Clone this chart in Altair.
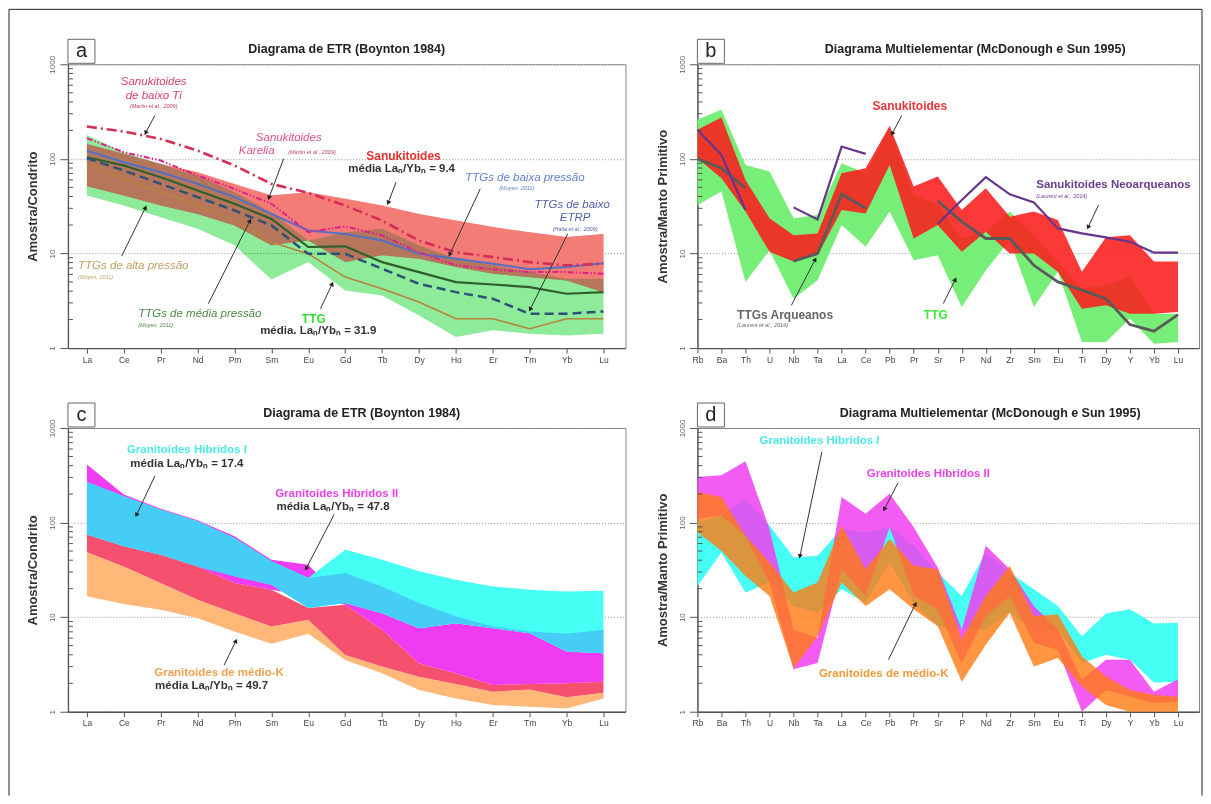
import altair as alt
import pandas as pd

FONT = "Liberation Sans"

REE = ["La", "Ce", "Pr", "Nd", "Pm", "Sm", "Eu", "Gd", "Tb", "Dy", "Ho", "Er", "Tm", "Yb", "Lu"]
MULTI = ["Rb", "Ba", "Th", "U", "Nb", "Ta", "La", "Ce", "Pb", "Pr", "Sr", "P", "Nd", "Zr", "Sm",
         "Eu", "Ti", "Dy", "Y", "Yb", "Lu"]

# ---------------- Panel a (ETR, Boynton 1984) ----------------
A_SAN_HI = [144, 113, 88.5, 72.3, 54.4, 41, 44.4, 37.8, 32.1, 26.2, 22.3, 19, 16.8, 14.9, 16.1]
A_SAN_LO = [51.4, 41, 32.1, 26.2, 19.8, 12.2, 13.7, 8.1, 9.6, 8.8, 7.2, 6.1, 5.62, 5.19, 3.9]
A_TTG_HI = [179, 117.6, 88.5, 66.7, 44.4, 27.3, 13.7, 16.8, 18.2, 12.2, 8.8, 7.5, 6.35, 5.4, 5.4]
A_TTG_LO = [41, 32.1, 24.2, 18.2, 12.2, 5.3, 8.1, 4.06, 3.6, 2.21, 1.31, 1.54, 1.42, 1.36, 1.42]
A_BAIXO_TI = [219.6, 194.5, 162.6, 122, 85, 54.4, 43.7, 32.1, 22.3, 13.7, 10.3, 9.15, 8.1, 7.5, 7.8]
A_KARELIA = [165, 117.6, 96, 66.7, 48.2, 33.5, 16.8, 19.3, 15.5, 10.3, 7.5, 6.8, 6.35, 6.35, 6.1]
A_BAIXA_P = [122, 92, 72.3, 54.4, 39.4, 26.2, 17.5, 16.1, 13.7, 9.9, 8.8, 7.8, 6.8, 7.2, 7.9]
A_MEDIA_P = [104, 85, 64, 46.3, 33.5, 23.2, 11.7, 11.9, 8.1, 6.35, 4.98, 4.7, 4.41, 3.75, 3.9]
A_BAIXO_ETRP = [101.6, 75.3, 54.4, 39.4, 28.5, 19.8, 9.9, 9.9, 6.9, 4.78, 3.9, 3.32, 2.3, 2.3, 2.44]
A_ALTA_P = [85, 61.5, 44.4, 32.1, 22.3, 13.2, 9.9, 5.62, 4.23, 3.06, 2.04, 2.04, 1.6, 2.04, 2.04]

# ---------------- Panel b (multielement, McDonough & Sun 1995) ----------------
B_TTG_HI = [259, 331, 86.4, 73.4, 23.5, 25.5, 90, 70.3, 211, 41.5, 32.5, 14.4, 17, 27.7, 15.6, 8.2,
            4.26, 4.62, 5.66, 2.31, 2.31]
B_TTG_LO = [32.5, 45.1, 5.0, 10.8, 3.33, 5.22, 20, 11.8, 27.7, 8.5, 9.6, 2.72, 6.66, 13.8, 2.72, 6.39,
            1.16, 1.16, 2.05, 1.11, 1.16]
B_SAN_HI = [203, 274, 59.9, 23.5, 15.6, 16.3, 70.3, 79.6, 224, 50.9, 65, 28.8, 48.9, 24.5, 27.7, 22.6,
            6.39, 14.8, 15.6, 8.2, 8.2]
B_SAN_LO = [101.6, 62.4, 27.7, 10.4, 8.2, 9.6, 28.8, 26.5, 86.4, 14.4, 20, 10.4, 17, 10, 10, 6.39,
            2.61, 2.83, 2.31, 2.31, 2.41]
B_NEOARQ = [203, 110, 28.8, None, 30.7, 22.9, 135, 113, None, None, 20.5, 36.7, 64, 42.2, 34.7, 18.4,
            16.3, 14.8, 13.3, 10.2, 10.2]
B_TTG_ARQ = [100, 79.6, 48.9, None, 8.3, 10, 42.2, 30, None, None, 35.9, 21.7, 14.4, 14.4, 7.5, 5.0,
             4.1, 3.33, 1.77, 1.51, 2.26]

# ---------------- Panel c (ETR) ----------------
C_MK_HI = [48.5, 34.4, 22.9, 15.3, 11.0, 7.96, 9.37, 3.99, 3.0, 2.35, 1.97, 1.63, 1.72, 1.42, 1.59]
C_MK_LO = [16.6, 13.8, 12.0, 9.76, 7.05, 5.22, 6.66, 3.53, 2.55, 1.70, 1.38, 1.18, 1.13, 1.08, 1.38]
C_RED_HI = [74.6, 56.1, 45.8, 34.4, 22.9, 19.5, 12.5, 13.5, 7.34, 3.25, 2.55, 1.92, 1.97, 2.0, 2.08]
C_RED_LO = [48.5, 34.4, 22.9, 15.3, 11.0, 7.96, 9.37, 3.99, 3.0, 2.35, 1.97, 1.63, 1.72, 1.42, 1.59]
C_HII_HI = [412, 198, 140, 106, 71.6, 40.5, 35.9, 14.1, 11.0, 7.64, 8.63, 7.64, 6.77, 4.33, 4.15]
C_HII_LO = [74.6, 56.1, 45.8, 34.4, 22.9, 19.5, 16.6, 13.5, 7.34, 3.25, 2.55, 1.92, 1.97, 2.0, 2.08]
C_HI_HI = [268, 190, 137, 103, 68.8, 38.9, 25.9, 51.7, 40.5, 30.5, 24.9, 21.1, 19.5, 18.7, 19.0]
C_HI_LO = [74.6, 56.1, 45.8, 34.4, 27.0, 22.0, 12.5, 14.1, 11.0, 7.64, 8.63, 7.64, 6.77, 4.33, 4.15]
C_OVL_HI = [268, 190, 137, 103, 68.8, 38.9, 25.9, 29.3, 21.1, 14.1, 10.2, 7.96, 7.05, 6.66, 7.34]
C_OVL_LO = [74.6, 56.1, 45.8, 34.4, 27.0, 22.0, 12.5, 14.1, 11.0, 7.64, 8.63, 7.64, 6.77, 4.33, 4.15]

# ---------------- Panel d (multielement) ----------------
D_HI_HI = [101, 119, 179, 93, 42.8, 44.6, 85.7, 78.9, 89.2, 56.9, 29.6, 16.7, 48.3, 29.6, 19.7, 13.1,
           6.28, 10.9, 12.1, 8.57, 8.7]
D_HI_LO = [21.4, 48.3, 18.2, 23.2, 13.1, 11.1, 19.7, 14.2, 37.8, 14.2, 8.02, 7.39, 7.39, 11.1, 7.39,
           7.39, 3.27, 4.01, 3.55, 2.04, 2.08]
D_HII_HI = [304, 316, 446, 85.7, 7.39, 6.03, 186, 124, 202, 89.2, 33.5, 7.39, 56.9, 32.1, 13.1, 7.39,
            2.17, 3.55, 3.55, 1.63, 2.21]
D_HII_LO = [109, 119, 72.7, 23.2, 2.82, 3.27, 32.1, 16.7, 89.2, 16.7, 12.1, 3.27, 10.2, 16.7, 5.33,
            4.53, 1.0, 1.70, 1.44, 1.23, 1.28]
D_MK_HI = [210, 186, 72.7, 37.8, 18.2, 23.2, 93, 32.1, 67, 34.9, 32.1, 5.79, 16.7, 34.9, 10.2, 10.7,
           3.85, 2.36, 1.70, 1.50, 1.44]
D_MK_LO = [78.9, 50.4, 27.3, 16.7, 2.89, 6.28, 23.2, 13.1, 19.7, 12.1, 8.02, 2.08, 5.12, 11.1, 3.01,
           3.69, 1.85, 1.18, 1.0, 1.0, 1.0]

MINOR = [m * d for d in (1, 10, 100) for m in range(2, 10)]

SUB = "\u2099"
MED = "média La" + SUB + "/Yb" + SUB + " = "


class Panel:
    def __init__(self, names, dom, ytitle):
        self.names = names
        self.dom = dom
        self.ytitle = ytitle
        self.layers = []

    def X(self, field="i"):
        expr = "[" + ",".join("'%s'" % n for n in self.names) + "][datum.value]"
        return alt.X(field + ":Q", title=None,
                     scale=alt.Scale(domain=self.dom, nice=False, zero=False),
                     axis=alt.Axis(values=list(range(len(self.names))), labelExpr=expr, grid=False,
                                   tickSize=5, tickColor="#555", domainColor="#555", domainWidth=1.3,
                                   labelFontSize=8.5, labelColor="#444", labelPadding=2, labelFont=FONT,
                                   labelOverlap=False, labelFlush=False))

    def Y(self, field="v"):
        return alt.Y(field + ":Q", title=self.ytitle,
                     scale=alt.Scale(type="log", domain=[1, 1000], nice=False),
                     axis=alt.Axis(values=[1, 10, 100, 1000], format="d", grid=True, gridColor="#777",
                                   gridDash=[1, 2], gridWidth=0.8, tickSize=8, tickColor="#555",
                                   domainColor="#555", domainWidth=1.3, labelAngle=270,
                                   labelAlign="center", labelBaseline="bottom", labelFontSize=8,
                                   labelColor="#666", labelPadding=3, labelFont=FONT,
                                   titleFontSize=13, titleFontWeight="bold", titleColor="#333",
                                   titlePadding=9, titleFont=FONT))

    def band(self, lo, hi, color, opacity=1.0, blend=None):
        df = pd.DataFrame({"i": list(range(len(lo))), "lo": lo, "hi": hi})
        kw = dict(color=color, opacity=opacity)
        if blend:
            kw["blend"] = blend
        self.layers.append(alt.Chart(df).mark_area(**kw).encode(
            x=self.X(), y=self.Y("lo"), y2=alt.Y2("hi:Q")))

    def line(self, values, color, width, dash=None):
        rows, seg = [], 0
        for i, v in enumerate(values):
            if v is None:
                seg += 1
                continue
            rows.append({"i": i, "v": v, "s": seg})
        kw = dict(color=color, strokeWidth=width)
        if dash:
            kw["strokeDash"] = dash
        self.layers.append(alt.Chart(pd.DataFrame(rows)).mark_line(**kw).encode(
            x=self.X(), y=self.Y(), detail="s:N"))

    def text(self, i, v, t, color, size, bold=False, italic=False, align="center"):
        df = pd.DataFrame({"i": [i], "v": [v], "t": [t]})
        kw = dict(color=color, fontSize=size, font=FONT, align=align, baseline="middle")
        if bold:
            kw["fontWeight"] = "bold"
        if italic:
            kw["fontStyle"] = "italic"
        self.layers.append(alt.Chart(df).mark_text(**kw).encode(x=self.X(), y=self.Y(), text="t:N"))

    def arrows(self, rows):
        df = pd.DataFrame(rows, columns=["i", "v", "i2", "v2", "ang"])
        self.layers.append(alt.Chart(df).mark_rule(color="#333", strokeWidth=1).encode(
            x=self.X(), y=self.Y(), x2="i2:Q", y2="v2:Q"))
        self.layers.append(alt.Chart(df).mark_point(shape="triangle", filled=True, color="#222",
                                                    size=26, opacity=1).encode(
            x=self.X("i2"), y=self.Y("v2"), angle=alt.Angle("ang:Q", scale=None)))

    def deco(self, letter, title, tx):
        one = pd.DataFrame({"d": [0]})
        self.layers.append(alt.Chart(pd.DataFrame({"v": MINOR})).mark_rule(
            color="#555", strokeWidth=1).encode(y=self.Y(), x=alt.value(0), x2=alt.value(5)))
        self.layers.append(alt.Chart(one).mark_rect(fill="white", stroke="#666", strokeWidth=1).encode(
            x=alt.value(0), x2=alt.value(27), y=alt.value(-25), y2=alt.value(-1)))
        self.layers.append(alt.Chart(one).mark_text(fontSize=20, font=FONT, color="#222",
                                                    baseline="middle", align="center").encode(
            x=alt.value(13.5), y=alt.value(-13), text=alt.value(letter)))
        self.layers.append(alt.Chart(one).mark_text(fontSize=12.5, font=FONT, fontWeight="bold",
                                                    color="#222", baseline="middle",
                                                    align="center").encode(
            x=alt.value(tx), y=alt.value(-15), text=alt.value(title)))

    def frame(self):
        one = pd.DataFrame({"d": [0]})
        self.layers.append(alt.Chart(one).mark_rule(color="#222", strokeWidth=1).encode(
            x=alt.value(-59), y=alt.value(-55), y2=alt.value(732)))
        self.layers.append(alt.Chart(one).mark_rule(color="#222", strokeWidth=1).encode(
            x=alt.value(-59), x2=alt.value(1135), y=alt.value(-55)))
        self.layers.append(alt.Chart(one).mark_rule(color="#222", strokeWidth=1).encode(
            x=alt.value(1135), y=alt.value(-55), y2=alt.value(732)))

    def build(self, width):
        return alt.layer(*self.layers).properties(width=width, height=284)


CITE = 5.5
ITS = 11.5
T_ETR = "Diagrama de ETR (Boynton 1984)"
T_MULTI = "Diagrama Multielementar (McDonough e Sun 1995)"

# ----- panel a -----
pa = Panel(REE, [-0.514, 14.596], "Amostra/Condrito")
pa.band(A_SAN_LO, A_SAN_HI, "#F47C78")
pa.band(A_TTG_LO, A_TTG_HI, "#8EEB9A", blend="multiply")
pa.band(A_SAN_LO, A_SAN_HI, "#F47C78", opacity=0.42)
pa.line(A_ALTA_P, "#B8843C", 1.6)
pa.line(A_MEDIA_P, "#2F5F2F", 2.2)
pa.line(A_BAIXO_ETRP, "#2E5275", 2.5, dash=[9, 5])
pa.line(A_BAIXA_P, "#5270C4", 2.0)
pa.line(A_KARELIA, "#E0208A", 2.0, dash=[6, 2, 1.5, 2, 1.5, 2])
pa.line(A_BAIXO_TI, "#D62E55", 2.6, dash=[10, 4, 2, 4])
pa.text(1.81, 646, "Sanukitoides", "#D8406A", ITS, italic=True)
pa.text(1.81, 467, "de baixo Ti", "#D8406A", ITS, italic=True)
pa.text(1.81, 360, "(Martin et al., 2009)", "#C04060", CITE, italic=True)
pa.text(5.47, 167, "Sanukitoides", "#D8508A", ITS, italic=True)
pa.text(4.60, 122, "Karelia", "#D8508A", ITS, italic=True)
pa.text(6.10, 119.5, "(Martin et al., 2009)", "#C04070", CITE, italic=True)
pa.text(8.58, 108, "Sanukitoides", "#E83030", 12, bold=True)
pa.text(8.53, 78.4, MED + "9.4", "#333333", 11.5, bold=True)
pa.text(11.87, 63, "TTGs de baixa pressão", "#6080C8", ITS, italic=True)
pa.text(11.65, 49, "(Moyen, 2011)", "#6080C8", CITE, italic=True)
pa.text(13.15, 32.9, "TTGs de baixo", "#5060A8", ITS, italic=True)
pa.text(13.23, 23.8, "ETRP", "#5060A8", ITS, italic=True)
pa.text(13.23, 18.2, "(Halla et al., 2009)", "#5060A8", CITE, italic=True)
pa.text(-0.24, 7.35, "TTGs de alta pressão", "#C0A060", ITS, italic=True, align="left")
pa.text(-0.24, 5.58, "(Moyen, 2011)", "#C0A060", CITE, italic=True, align="left")
pa.text(1.39, 2.31, "TTGs de média pressão", "#4A8A4A", ITS, italic=True, align="left")
pa.text(1.39, 1.76, "(Moyen, 2011)", "#4A8A4A", CITE, italic=True, align="left")
pa.text(6.15, 2.04, "TTG", "#33DD33", 12, bold=True)
pa.text(6.27, 1.50, "média. La" + SUB + "/Yb" + SUB + " = 31.9", "#333333", 11.5, bold=True)
pa.arrows([(1.84, 287, 1.60, 191, 208), (5.33, 100, 4.94, 39.4, 200), (8.38, 56.7, 8.17, 34.8, 202),
           (10.66, 48.2, 9.84, 9.9, 205), (13.03, 16.1, 12.02, 2.60, 207), (0.94, 9.37, 1.58, 30.1, 26),
           (3.29, 2.94, 4.41, 21.8, 27), (6.33, 2.60, 6.64, 4.70, 25)])
pa.deco("a", T_ETR, 279)
pa.frame()
chart_a = pa.build(558)

# ----- panel b -----
pb = Panel(MULTI, [0, 20.873], "Amostra/Manto Primitivo")
pb.band(B_TTG_LO, B_TTG_HI, "#77EE77")
pb.band(B_SAN_LO, B_SAN_HI, "#FA1E1E", opacity=0.88)
pb.line(B_TTG_ARQ, "#5A5A5A", 2.8)
pb.line(B_NEOARQ, "#66348A", 2.2)
pb.text(8.84, 359, "Sanukitoides", "#E8343C", 12, bold=True)
pb.text(14.1, 53, "Sanukitoides Neoarqueanos", "#6B3D8E", 11.5, bold=True, align="left")
pb.text(14.1, 40.5, "(Laurent et al., 2014)", "#6B3D8E", CITE, italic=True, align="left")
pb.text(1.65, 2.26, "TTGs Arqueanos", "#666666", 12, bold=True, align="left")
pb.text(1.65, 1.74, "(Laurent et al., 2014)", "#666666", CITE, italic=True, align="left")
pb.text(9.92, 2.22, "TTG", "#3EE83E", 12, bold=True)
pb.arrows([(8.50, 288, 8.12, 187, 207), (16.69, 32.5, 16.27, 19.2, 205), (3.91, 2.83, 4.89, 8.5, 27),
           (10.23, 2.95, 10.72, 5.22, 27)])
pb.deco("b", T_MULTI, 278)
chart_b = pb.build(502)

# ----- panel c -----
pc = Panel(REE, [-0.514, 14.596], "Amostra/Condrito")
pc.band(C_MK_LO, C_MK_HI, "#FFB878")
pc.band(C_RED_LO, C_RED_HI, "#F5506E")
pc.band(C_HII_LO, C_HII_HI, "#F03CF0")
pc.band(C_HI_LO, C_HI_HI, "#46FFF4")
pc.band(C_OVL_LO, C_OVL_HI, "#46CDF5")
pc.text(2.71, 580, "Granitoides Híbridos I", "#4DE8E8", 11.5, bold=True)
pc.text(2.71, 412, MED + "17.4", "#333333", 11.5, bold=True)
pc.text(6.77, 201, "Granitoides Híbridos II", "#E840E8", 11.5, bold=True)
pc.text(6.67, 145, MED + "47.8", "#333333", 11.5, bold=True)
pc.text(3.58, 2.59, "Granitoides de médio-K", "#F0A050", 11.5, bold=True)
pc.text(3.38, 1.89, MED + "49.7", "#333333", 11.5, bold=True)
pc.arrows([(1.84, 310, 1.35, 122, 205), (6.70, 122, 5.95, 33.1, 208), (3.72, 3.12, 4.03, 5.52, 26)])
pc.deco("c", T_ETR, 294)
chart_c = pc.build(558)

# ----- panel d -----
pd_ = Panel(MULTI, [0, 20.873], "Amostra/Manto Primitivo")
pd_.band(D_HI_LO, D_HI_HI, "#46FFF4")
pd_.band(D_HII_LO, D_HII_HI, "#F040F0", opacity=0.85)
pd_.band(D_MK_LO, D_MK_HI, "#FF7A10", opacity=0.8)
pd_.text(5.08, 733, "Granitoides Híbridos I", "#4DE8E8", 11.5, bold=True)
pd_.text(9.61, 330, "Granitoides Híbridos II", "#E840E8", 11.5, bold=True)
pd_.text(7.75, 2.52, "Granitoides de médio-K", "#F09838", 11.5, bold=True)
pd_.arrows([(5.18, 560, 4.27, 44.6, 192), (8.35, 264, 7.79, 140, 207), (7.95, 3.55, 9.06, 13.6, 26)])
pd_.deco("d", T_MULTI, 293)
chart_d = pd_.build(502)

chart = alt.concat(chart_a, chart_b, chart_c, chart_d, columns=2, bounds="flush",
                   spacing={"row": 80, "column": 72}).properties(padding=0).configure_view(
    stroke="#888", strokeWidth=1)

chart.save("out.html", embed_options={"renderer": "svg", "actions": False})
